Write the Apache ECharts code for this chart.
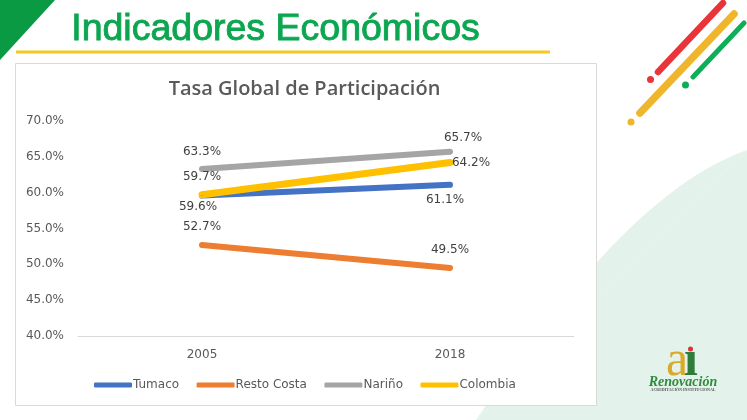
<!DOCTYPE html>
<html><head><meta charset="utf-8">
<style>html,body{margin:0;padding:0;background:#fff}#c{width:747px;height:420px}</style>
<script src="https://cdn.jsdelivr.net/npm/echarts@6/dist/echarts.min.js"></script>
</head><body><div id="c"></div>
<script>
const years = ['2005', '2018'];
const tumaco = [59.6, 61.1];
const restoCosta = [52.7, 49.5];
const narino = [63.3, 65.7];
const colombia = [59.7, 64.2];
const seriesNames = ['Tumaco', 'Resto Costa', 'Nariño', 'Colombia'];
const colors = ['#4472C4', '#ED7D31', '#A5A5A5', '#FFC000'];
const lineWidths = [6, 6, 6, 7];
const labelOffsets = [
  [[-4, 11], [-5, 15]],
  [[0, -18], [0, -18]],
  [[0, -17], [13, -14]],
  [[0, -18], [21, 0]]
];
const values = [tumaco, restoCosta, narino, colombia];
const font = '"DejaVu Sans"';
const chart = echarts.init(document.getElementById('c'), null, {renderer: 'canvas'});
const seg = (x1, y1, x2, y2, color, w) => ({type: 'line', silent: true, z: -5,
  shape: {x1, y1, x2, y2}, style: {stroke: color, lineWidth: w, lineCap: 'round'}});
const dot = (cx, cy, r, color) => ({type: 'circle', silent: true, z: -2, shape: {cx, cy, r}, style: {fill: color}});
const txt = (x, y, text, f, fill, extra) => ({type: 'text', silent: true, z: -3, x, y,
  style: Object.assign({text, font: f, fill, align: 'center', verticalAlign: 'middle'}, extra || {})});
chart.setOption({
  animation: false,
  backgroundColor: '#ffffff',
  title: {text: 'Tasa Global de Participación', left: 299.5, top: 74, textAlign: 'center',
    textStyle: {fontFamily: '"Open Sans"', fontSize: 20, fontWeight: 600, color: '#595959'}},
  grid: {left: 78, right: 173, top: 121, bottom: 84},
  legend: {top: 374, left: 89, itemWidth: 38, itemHeight: 5, itemGap: 17.5, icon: 'roundRect',
    data: seriesNames,
    textStyle: {fontFamily: font, fontSize: 12, color: '#595959', padding: [0, 0, 0, -4]}},
  xAxis: {type: 'category', data: years, boundaryGap: true,
    axisTick: {show: false}, axisLine: {lineStyle: {color: '#D9D9D9', width: 1}},
    axisLabel: {fontFamily: font, fontSize: 12, color: '#595959', margin: 13}},
  yAxis: {type: 'value', min: 40, max: 70, interval: 5,
    splitLine: {show: false}, axisLine: {show: false}, axisTick: {show: false},
    axisLabel: {fontFamily: font, fontSize: 12, color: '#595959', margin: 14,
      formatter: v => v.toFixed(1) + '%'}},
  series: seriesNames.map((name, i) => ({
    name, type: 'line', symbol: 'circle', symbolSize: 1, showSymbol: true,
    itemStyle: {color: colors[i]},
    lineStyle: {color: colors[i], width: lineWidths[i], cap: 'round'},
    data: values[i].map((v, j) => ({value: v, label: {offset: labelOffsets[i][j]}})),
    label: {show: true, position: 'inside', fontFamily: font, fontSize: 12, color: '#404040',
      formatter: p => p.value.toFixed(1) + '%'}
  })),
  graphic: {elements: [
    {type: 'polygon', silent: true, z: -10, shape: {points: [[476, 420], [747, 150], [747, 420]]}, style: {fill: '#E3F2EA'}},
    {type: 'bezierCurve', silent: true, z: -10, shape: {x1: 476, y1: 420, cpx1: 540, cpy1: 330, cpx2: 635, cpy2: 190, x2: 747, y2: 150},
      style: {fill: '#E3F2EA', stroke: null}},
    {type: 'polygon', silent: true, z: -5, shape: {points: [[0, 0], [55, 0], [0, 60]]}, style: {fill: '#0A9A44'}},
    {type: 'rect', silent: true, z: -6, shape: {x: 15.5, y: 63.5, width: 581, height: 342},
      style: {fill: '#ffffff', stroke: '#D9D9D9', lineWidth: 1}},
    {type: 'rect', silent: true, z: -5, shape: {x: 16, y: 50.5, width: 534, height: 3}, style: {fill: '#F7C91E'}},
    txt(275.5, 30, 'Indicadores Económicos', '37.5px "Liberation Sans"', '#0CA650', {stroke: '#0CA650', lineWidth: 0.9}),
    seg(658, 72, 723, 3, '#E9343A', 6.5), dot(650.5, 79.5, 3.5, '#E9343A'),
    seg(640, 113, 734, 14, '#F0B62B', 7.5), dot(631, 122, 3.5, '#F0B62B'),
    seg(693, 77, 744, 23, '#0DAE58', 5), dot(685.5, 85, 3.5, '#0DAE58'),
    txt(677, 362, 'a', '50px "Liberation Serif"', '#D9A92A'),
    txt(691, 362, 'ı', 'bold 50px "Liberation Serif"', '#2F7D3A'),
    dot(690.5, 349, 2.5, '#E0303A'),
    txt(683, 382, 'Renovación', 'italic bold 14px "Liberation Serif"', '#2E8B3C'),
    txt(683, 390, 'ACREDITACIÓN INSTITUCIONAL', 'bold 4px "Liberation Serif"', '#555555')
  ]}
});
</script></body></html>
